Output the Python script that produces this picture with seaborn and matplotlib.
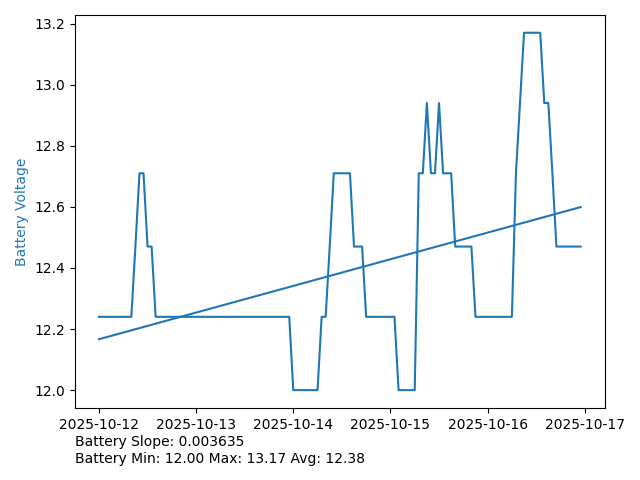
import numpy as np
import pandas as pd
import matplotlib
matplotlib.use("Agg")
import matplotlib.pyplot as plt
import seaborn as sns

# hourly battery readings, 2025-10-12 00:00 onward
start_time = "2025-10-12 00:00"
voltage = (
    [12.24] * 9 + [12.47] + [12.71] * 2 + [12.47] * 2 + [12.24] * 34
    + [12.00] * 7 + [12.24] * 2 + [12.47] + [12.71] * 5 + [12.47] * 3
    + [12.24] * 8 + [12.00] * 5 + [12.71] * 2 + [12.94] + [12.71] * 2
    + [12.94] + [12.71] * 3 + [12.47] * 5 + [12.24] * 10 + [12.71]
    + [12.94] + [13.17] * 5 + [12.94] * 2 + [12.71] + [12.47] * 7
)
slope_text = "Battery Slope: 0.003635"
stats_text = "Battery Min: 12.00 Max: 13.17 Avg: 12.38"

df = pd.DataFrame({
    "time": pd.date_range(start_time, periods=len(voltage), freq="h"),
    "voltage": voltage,
})

# linear trend over sample index
idx = np.arange(len(df))
coef = np.polyfit(idx, df["voltage"], 1)
df["trend"] = np.polyval(coef, idx)

fig, ax = plt.subplots(figsize=(6.4, 4.8), dpi=100)
sns.lineplot(data=df, x="time", y="voltage", color="tab:blue", ax=ax)
sns.lineplot(data=df, x="time", y="trend", color="tab:blue", ax=ax)
ax.set_xlabel("")
ax.set_ylabel("Battery Voltage", color="tab:blue")

fig.subplots_adjust(left=0.117, right=0.945, top=0.969, bottom=0.15)
fig.text(0.117, 0.03, slope_text + "\n" + stats_text, fontsize=10, va="bottom")

plt.savefig("out.png", dpi=100)
